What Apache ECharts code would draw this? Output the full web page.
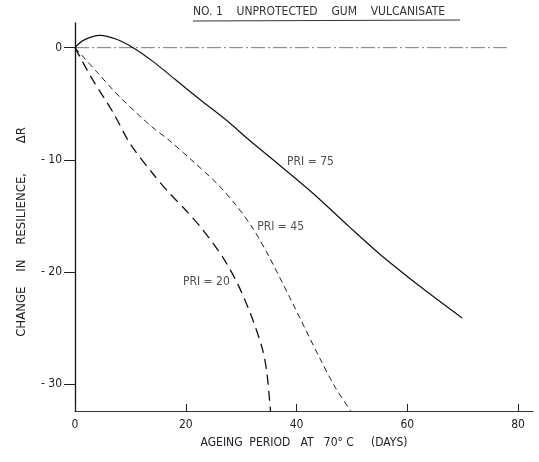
<!DOCTYPE html>
<html>
<head>
<meta charset="utf-8">
<script src="https://cdn.jsdelivr.net/npm/echarts@6/dist/echarts.min.js"></script>
<style>html,body{margin:0;padding:0;background:#fff}#c{width:539px;height:462px}</style>
</head>
<body>
<div id="c"></div>
<script>
// Data (day, change in resilience)
const pri75 = [[0,0],[1.5,0.65],[4.5,1.1],[7.5,0.75],[10.5,0],[14,-1.2],[18,-2.8],[22.5,-4.6],[27.4,-6.5],[31.6,-8.3],[37,-10.5],[43,-13],[49.6,-16],[55,-18.4],[60,-20.4],[65,-22.3],[69.9,-24.1]];
const pri45 = [[0,0],[4,-2.2],[8.1,-4.4],[13.5,-6.9],[17.1,-8.3],[21,-10],[25.6,-12.1],[29,-14],[32.1,-16.1],[35,-18.6],[38.8,-22.3],[41.5,-25],[44.2,-27.7],[47,-30.3],[49.8,-32.4]];
const pri20 = [[0,0],[3,-2.7],[6.9,-5.8],[10,-8.6],[14,-11.2],[17.1,-13],[20,-14.5],[23,-16.2],[26.7,-18.7],[29.5,-21.2],[31.9,-24],[33.8,-26.8],[34.6,-28.8],[35.2,-31.8],[35.3,-32.4]];
const zeroLine = [[0,0],[78.5,0]];
const xTicks = [0,20,40,60,80];
const yTicks = [0,-10,-20,-30];
const curveLabels = [
  {name:'PRI = 75', at:[38.3,-10.2]},
  {name:'PRI = 45', at:[32.9,-16.0]},
  {name:'PRI = 20', at:[19.5,-20.9]}
];
const titleText = 'NO. 1    UNPROTECTED    GUM    VULCANISATE';
const xName = 'AGEING  PERIOD   AT   70\u00B0 C     (DAYS)';
const yName = 'CHANGE    IN    RESILIENCE,        \u0394R';

const FONT = '"Liberation Sans Narrow","DejaVu Sans Condensed","Liberation Sans",sans-serif';
const chart = echarts.init(document.getElementById('c'), null, {renderer:'canvas'});
chart.setOption({
  animation:false,
  backgroundColor:'#fff',
  grid:{left:75, right:6, top:23, bottom:51},
  xAxis:{
    type:'value', min:0, max:82.7,
    axisLine:{show:true, onZero:false, lineStyle:{color:'#333', width:1}},
    axisTick:{show:true, inside:true, length:7, customValues:xTicks, lineStyle:{color:'#222'}},
    axisLabel:{customValues:xTicks, color:'#222', fontFamily:FONT, fontSize:12, margin:8},
    splitLine:{show:false},
    name:xName, nameLocation:'middle', nameGap:26,
    nameTextStyle:{color:'#222', fontFamily:FONT, fontSize:12}
  },
  yAxis:{
    type:'value', min:-32.4, max:2.2,
    axisLine:{show:true, onZero:false, lineStyle:{color:'#111', width:1.3}},
    axisTick:{show:true, inside:false, length:11, customValues:yTicks, lineStyle:{color:'#222'}},
    axisLabel:{customValues:yTicks, color:'#222', fontFamily:FONT, fontSize:12, margin:13,
      formatter:v => v===0 ? '0' : '- ' + Math.abs(v)},
    splitLine:{show:false}
  },
  graphic:[
    {type:'text', left:193, top:6, style:{text:titleText, fill:'#333', font:'12px ' + FONT}},
    {type:'line', shape:{x1:193, y1:21, x2:460, y2:20}, style:{stroke:'#333', lineWidth:1}},
    {type:'text', x:22, y:232, rotation:Math.PI/2,
      style:{text:yName, fill:'#222', font:'13px ' + FONT, align:'center', verticalAlign:'middle'}}
  ],
  series:[
    {type:'line', data:zeroLine, symbol:'none', silent:true,
      lineStyle:{color:'#555', width:0.8, type:[14,3,2,3]}},
    {type:'line', name:'PRI = 75', data:pri75, symbol:'none', smooth:0.3,
      lineStyle:{color:'#111', width:1.2}},
    {type:'line', name:'PRI = 45', data:pri45, symbol:'none', smooth:0.3,
      lineStyle:{color:'#222', width:1, type:[6,4]}},
    {type:'line', name:'PRI = 20', data:pri20, symbol:'none', smooth:0.3,
      lineStyle:{color:'#111', width:1.3, type:[10,6]}},
    {type:'scatter', symbolSize:0, silent:true,
      data:curveLabels.map(d => ({value:d.at, name:d.name})),
      label:{show:true, position:'right', distance:0, formatter:'{b}', color:'#222', fontFamily:FONT, fontSize:12}}
  ]
});
</script>
</body>
</html>
